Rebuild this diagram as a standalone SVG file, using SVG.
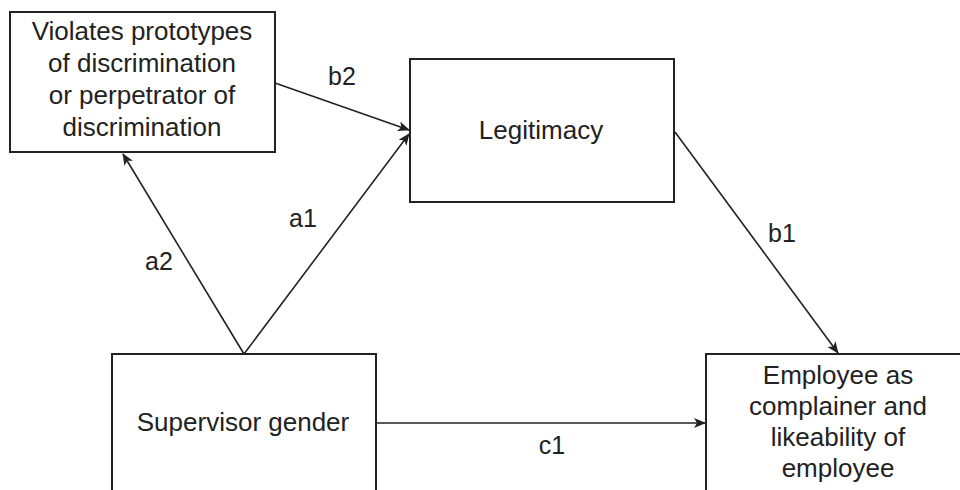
<svg xmlns="http://www.w3.org/2000/svg" width="960" height="490" viewBox="0 0 960 490">
<style>
.box{fill:#fff;stroke:#222;stroke-width:2}
.t{font-family:"Liberation Sans",Arial,Helvetica,sans-serif;font-size:26px;fill:#222;text-anchor:middle}
.lbl{font-family:"Liberation Sans",Arial,Helvetica,sans-serif;font-size:25px;fill:#222;text-anchor:middle}
.e{fill:none;stroke:#222;stroke-width:1.6}
</style>
<defs>
<marker id="arr" markerUnits="userSpaceOnUse" markerWidth="14" markerHeight="12" refX="11" refY="5" orient="auto">
<path d="M0,0 L12,5 L0,10 L3,5 z" fill="#222"/>
</marker>
</defs>
<rect width="960" height="490" fill="#fff"/>
<g id="violates">
<rect class="box" x="10" y="12" width="265" height="140"/>
<text class="t" x="142" y="40">Violates prototypes</text>
<text class="t" x="142" y="72">of discrimination</text>
<text class="t" x="142" y="104">or perpetrator of</text>
<text class="t" x="142" y="136">discrimination</text>
</g>
<g id="legitimacy">
<rect class="box" x="410" y="59" width="264" height="143"/>
<text class="t" x="541" y="139">Legitimacy</text>
</g>
<g id="supervisor">
<rect class="box" x="112" y="354" width="264" height="160"/>
<text class="t" x="243" y="431">Supervisor gender</text>
</g>
<g id="employee">
<rect class="box" x="706" y="354" width="280" height="160"/>
<text class="t" x="838" y="384">Employee as</text>
<text class="t" x="838" y="415">complainer and</text>
<text class="t" x="838" y="446">likeability of</text>
<text class="t" x="838" y="477">employee</text>
</g>
<g id="connectors">
<line class="e" x1="275" y1="83" x2="409" y2="130" marker-end="url(#arr)"/>
<line class="e" x1="244" y1="354" x2="409" y2="134" marker-end="url(#arr)"/>
<line class="e" x1="244" y1="354" x2="123" y2="154" marker-end="url(#arr)"/>
<line class="e" x1="675" y1="132" x2="838" y2="353" marker-end="url(#arr)"/>
<line class="e" x1="376" y1="423" x2="705" y2="423" marker-end="url(#arr)"/>
<text class="lbl" x="342" y="85">b2</text>
<text class="lbl" x="303" y="227">a1</text>
<text class="lbl" x="159" y="270">a2</text>
<text class="lbl" x="782" y="242">b1</text>
<text class="lbl" x="552" y="454">c1</text>
</g>
</svg>
